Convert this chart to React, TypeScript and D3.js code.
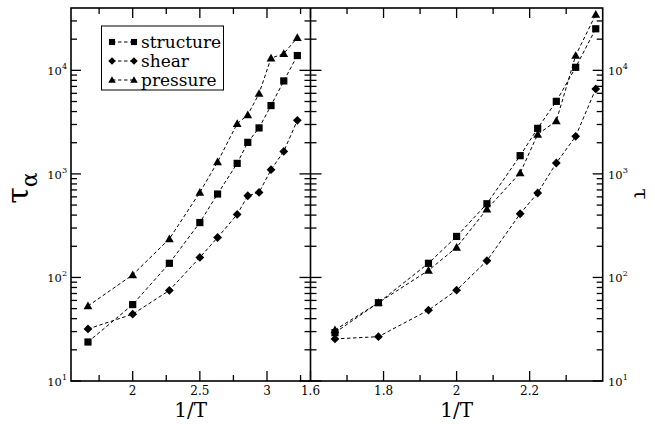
import React from 'react';
import * as d3 from 'd3';

// ---- data ----
const leftInvT = [1.667, 2.0, 2.273, 2.5, 2.632, 2.778, 2.857, 2.941, 3.03, 3.125, 3.226];
const leftStructure = [23.8, 54.7, 137, 339, 639, 1264, 2017, 2780, 4570, 7900, 13900];
const leftShear = [31.8, 44.2, 75, 156, 243, 406, 615, 662, 1099, 1650, 3290];
const leftPressure = [53, 106, 236, 662, 1303, 3056, 3715, 5970, 13100, 14500, 20700];

const rightInvT = [1.667, 1.786, 1.923, 2.0, 2.083, 2.174, 2.222, 2.273, 2.326, 2.381];
const rightStructure = [29.3, 57, 137, 249, 515, 1500, 2754, 5020, 10700, 25200];
const rightShear = [25.5, 26.8, 48.3, 75.4, 145, 412, 654, 1274, 2306, 6620];
const rightPressure = [31.1, 57, 117, 195, 457, 1020, 2410, 3245, 13900, 34700];

const seriesNames = ['structure', 'shear', 'pressure'];
const leftMajorTicks = [2, 2.5, 3];
const leftMinorTicks = [1.75, 2.25, 2.75, 3.25];
const rightMajorTicks = [1.6, 1.8, 2.0, 2.2];
const rightMinorTicks = [1.7, 1.9, 2.1, 2.3];
const yDecades = [1, 2, 3, 4];

const fs = (size: number): React.CSSProperties => ({ fontFamily: "'DejaVu Serif', serif", fontSize: size + 'px' });

const M = { left: 71, mid: 310.5, right: 602.7, top: 8, bottom: 381 };

const y = d3.scaleLog().domain([10, 40000]).range([M.bottom, M.top]);
const xL = d3.scaleLinear().domain([1.5406, 3.324]).range([M.left, M.mid]);
const xR = d3.scaleLinear().domain([1.6, 2.4]).range([M.mid, M.right]);

const yMinor: number[] = [];
for (let d = 1; d <= 4; d++) {
  for (let k = 2; k <= 9; k++) {
    const v = k * Math.pow(10, d);
    if (v < 40000) yMinor.push(v);
  }
}

function Marker({ kind, cx, cy, s = 1 }: { kind: string; cx: number; cy: number; s?: number }) {
  if (kind === 'structure') {
    const h = 3.6 * s;
    return <rect x={cx - h} y={cy - h} width={2 * h} height={2 * h} fill="#000" />;
  }
  if (kind === 'shear') {
    const h = 4.4 * s;
    return <path d={`M${cx},${cy - h}L${cx + h},${cy}L${cx},${cy + h}L${cx - h},${cy}Z`} fill="#000" />;
  }
  const h = 4.4 * s;
  return <path d={`M${cx},${cy - h}L${cx + h},${cy + h * 0.75}L${cx - h},${cy + h * 0.75}Z`} fill="#000" />;
}

function Series({ xs, ys, kind, xs_ }: { xs: number[]; ys: number[]; kind: string; xs_: d3.ScaleLinear<number, number> }) {
  const line = d3.line<number>().x((_, i) => xs_(xs[i])).y((v) => y(v));
  return (
    <g>
      <path d={line(ys) || ''} fill="none" stroke="#000" strokeWidth={1} strokeDasharray="3.5,2.5" />
      {ys.map((v, i) => (
        <Marker key={i} kind={kind} cx={xs_(xs[i])} cy={y(v)} />
      ))}
    </g>
  );
}

function YLabel({ d, x, anchor }: { d: number; x: number; anchor: 'start' | 'end' }) {
  const yy = y(Math.pow(10, d)) + 5;
  return (
    <text x={x} y={yy} style={fs(11.5)} textAnchor={anchor}>
      10<tspan style={fs(8)} dy={-6}>{d}</tspan>
    </text>
  );
}

export default function App() {
  const major = 10;
  const minor = 6;
  return (
    <svg width={655} height={424} style={{ position: 'absolute', left: 0, top: 0, background: '#fff' }}>
      <rect x={0} y={0} width={655} height={424} fill="#fff" />

      <Series xs={leftInvT} ys={leftStructure} kind="structure" xs_={xL} />
      <Series xs={leftInvT} ys={leftShear} kind="shear" xs_={xL} />
      <Series xs={leftInvT} ys={leftPressure} kind="pressure" xs_={xL} />
      <Series xs={rightInvT} ys={rightStructure} kind="structure" xs_={xR} />
      <Series xs={rightInvT} ys={rightShear} kind="shear" xs_={xR} />
      <Series xs={rightInvT} ys={rightPressure} kind="pressure" xs_={xR} />

      <g stroke="#000" strokeWidth={1.6} fill="none">
        <rect x={M.left} y={M.top} width={M.right - M.left} height={M.bottom - M.top} />
        <line x1={M.mid} x2={M.mid} y1={M.top} y2={M.bottom} />
      </g>

      <g stroke="#000" strokeWidth={1.3}>
        {leftMajorTicks.map((t) => (
          <g key={'lM' + t}>
            <line x1={xL(t)} x2={xL(t)} y1={M.bottom} y2={M.bottom - major} />
            <line x1={xL(t)} x2={xL(t)} y1={M.top} y2={M.top + major} />
          </g>
        ))}
        {leftMinorTicks.map((t) => (
          <g key={'lm' + t}>
            <line x1={xL(t)} x2={xL(t)} y1={M.bottom} y2={M.bottom - minor} />
            <line x1={xL(t)} x2={xL(t)} y1={M.top} y2={M.top + minor} />
          </g>
        ))}
        {rightMajorTicks.map((t) => (
          <g key={'rM' + t}>
            <line x1={xR(t)} x2={xR(t)} y1={M.bottom} y2={M.bottom - major} />
            <line x1={xR(t)} x2={xR(t)} y1={M.top} y2={M.top + major} />
          </g>
        ))}
        {rightMinorTicks.map((t) => (
          <g key={'rm' + t}>
            <line x1={xR(t)} x2={xR(t)} y1={M.bottom} y2={M.bottom - minor} />
            <line x1={xR(t)} x2={xR(t)} y1={M.top} y2={M.top + minor} />
          </g>
        ))}
        {yDecades.map((d) => {
          const yy = y(Math.pow(10, d));
          return (
            <g key={'yM' + d}>
              <line x1={M.left} x2={M.left + major} y1={yy} y2={yy} />
              <line x1={M.mid - major - 1} x2={M.mid + major + 1} y1={yy} y2={yy} />
              <line x1={M.right} x2={M.right - major} y1={yy} y2={yy} />
            </g>
          );
        })}
        {yMinor.map((v) => {
          const yy = y(v);
          return (
            <g key={'ym' + v}>
              <line x1={M.left} x2={M.left + minor} y1={yy} y2={yy} />
              <line x1={M.mid - minor} x2={M.mid + minor} y1={yy} y2={yy} />
              <line x1={M.right} x2={M.right - minor} y1={yy} y2={yy} />
            </g>
          );
        })}
      </g>

      {leftMajorTicks.map((t) => (
        <text key={'lt' + t} x={xL(t)} y={395} style={fs(12)} textAnchor="middle">{String(t)}</text>
      ))}
      {rightMajorTicks.map((t) => (
        <text key={'rt' + t} x={xR(t)} y={395} style={fs(12)} textAnchor="middle">{String(t)}</text>
      ))}

      {yDecades.map((d) => (
        <YLabel key={'yl' + d} d={d} x={67} anchor="end" />
      ))}
      {yDecades.map((d) => (
        <YLabel key={'yr' + d} d={d} x={608} anchor="start" />
      ))}

      <text x={(M.left + M.mid) / 2} y={417} style={fs(20)} textAnchor="middle">1/T</text>
      <text x={(M.mid + M.right) / 2} y={417} style={fs(20)} textAnchor="middle">1/T</text>
      <text transform="translate(28,188) rotate(-90)" style={fs(28)} textAnchor="middle">
        <tspan style={fs(30)}>τ</tspan>
        <tspan style={fs(22)} dy={9}>α</tspan>
      </text>
      <text transform="translate(634,194) rotate(90)" style={fs(20)} textAnchor="middle">τ</text>

      <rect x={101.5} y={26} width={122} height={64} fill="#fff" stroke="#000" strokeWidth={1} />
      {seriesNames.map((n, i) => {
        const cy = 42 + i * 19;
        return (
          <g key={n}>
            <line x1={112} x2={134} y1={cy} y2={cy} stroke="#000" strokeWidth={1} strokeDasharray="3.5,2.5" />
            <Marker kind={n} cx={112} cy={cy} s={0.85} />
            <Marker kind={n} cx={134} cy={cy} s={0.85} />
            <text x={141} y={cy + 5.5} style={fs(17)}>{n}</text>
          </g>
        );
      })}
    </svg>
  );
}
